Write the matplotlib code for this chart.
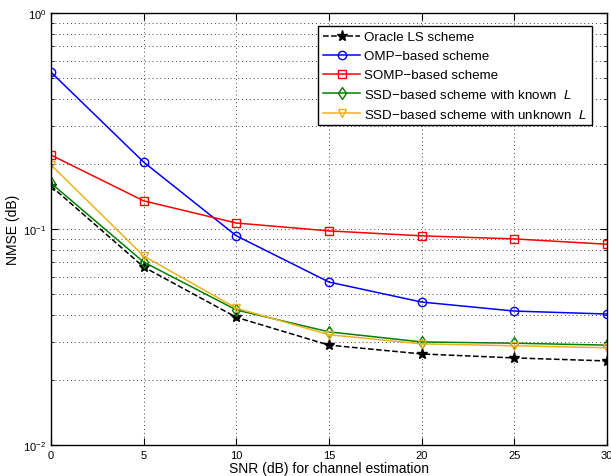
import matplotlib.pyplot as plt
from matplotlib.ticker import LogLocator, NullFormatter

plt.rcParams['font.family'] = ['Liberation Sans', 'DejaVu Sans']
plt.rcParams['mathtext.fontset'] = 'custom'
plt.rcParams['mathtext.it'] = 'Liberation Sans:italic'

snr = [0, 5, 10, 15, 20, 25, 30]
oracle_ls = [0.158, 0.0667, 0.039, 0.029, 0.0264, 0.0253, 0.0245]
omp = [0.532, 0.204, 0.093, 0.0568, 0.0459, 0.0417, 0.0404]
somp = [0.220, 0.135, 0.1066, 0.098, 0.093, 0.090, 0.085]
ssd_known = [0.163, 0.0703, 0.0422, 0.0334, 0.030, 0.0296, 0.029]
ssd_unknown = [0.198, 0.075, 0.043, 0.0324, 0.0294, 0.0288, 0.0282]

labels = ["Oracle LS scheme",
          "OMP\u2212based scheme",
          "SOMP\u2212based scheme",
          "SSD\u2212based scheme with known  $L$",
          "SSD\u2212based scheme with unknown  $L$"]

fig = plt.figure(figsize=(6.11, 4.77), dpi=100)
ax = fig.add_axes([0.0835, 0.065, 0.91, 0.9056])

ax.semilogy(snr, oracle_ls, '--', color='black', marker='*', markersize=8,
            linewidth=1.1, label=labels[0])
ax.semilogy(snr, omp, '-', color='#0000ff', marker='o', markersize=6,
            markerfacecolor='none', linewidth=1.1, label=labels[1])
ax.semilogy(snr, somp, '-', color='#ff0000', marker='s', markersize=5.5,
            markerfacecolor='none', linewidth=1.1, label=labels[2])
ax.semilogy(snr, ssd_known, '-', color='#008000', marker='d', markersize=6,
            markerfacecolor='none', linewidth=1.1, label=labels[3])
ax.semilogy(snr, ssd_unknown, '-', color='#EDB120', marker='v', markersize=6,
            markerfacecolor='none', linewidth=1.1, label=labels[4])

ax.set_xlim(0, 30)
ax.set_ylim(1e-2, 1)
ax.set_xticks([0, 5, 10, 15, 20, 25, 30])
ax.yaxis.set_major_locator(LogLocator(base=10, numticks=5))
ax.yaxis.set_minor_locator(LogLocator(base=10, subs=range(2, 10), numticks=20))
ax.yaxis.set_minor_formatter(NullFormatter())

ax.tick_params(which='both', direction='in', top=True, right=True, labelsize=8)
ax.tick_params(which='major', length=5)
ax.tick_params(which='minor', length=2.5)
grid_style = dict(linestyle=(0, (1, 3)), color='#444444', linewidth=0.7)
ax.grid(True, which='major', **grid_style)
ax.grid(True, which='minor', axis='y', **grid_style)
for sp in ax.spines.values():
    sp.set_linewidth(1.0)

ax.set_xlabel("SNR (dB) for channel estimation", fontsize=10, labelpad=1)
ax.set_ylabel("NMSE (dB)", fontsize=10, labelpad=2)

leg = ax.legend(loc='upper right', fontsize=9.6, fancybox=False, framealpha=1,
                edgecolor='black', handlelength=2.8, borderpad=0.35,
                labelspacing=0.5, handletextpad=0.3, bbox_to_anchor=(0.985, 0.985))
leg.get_frame().set_linewidth(1.0)

fig.savefig("out.png", dpi=100)
